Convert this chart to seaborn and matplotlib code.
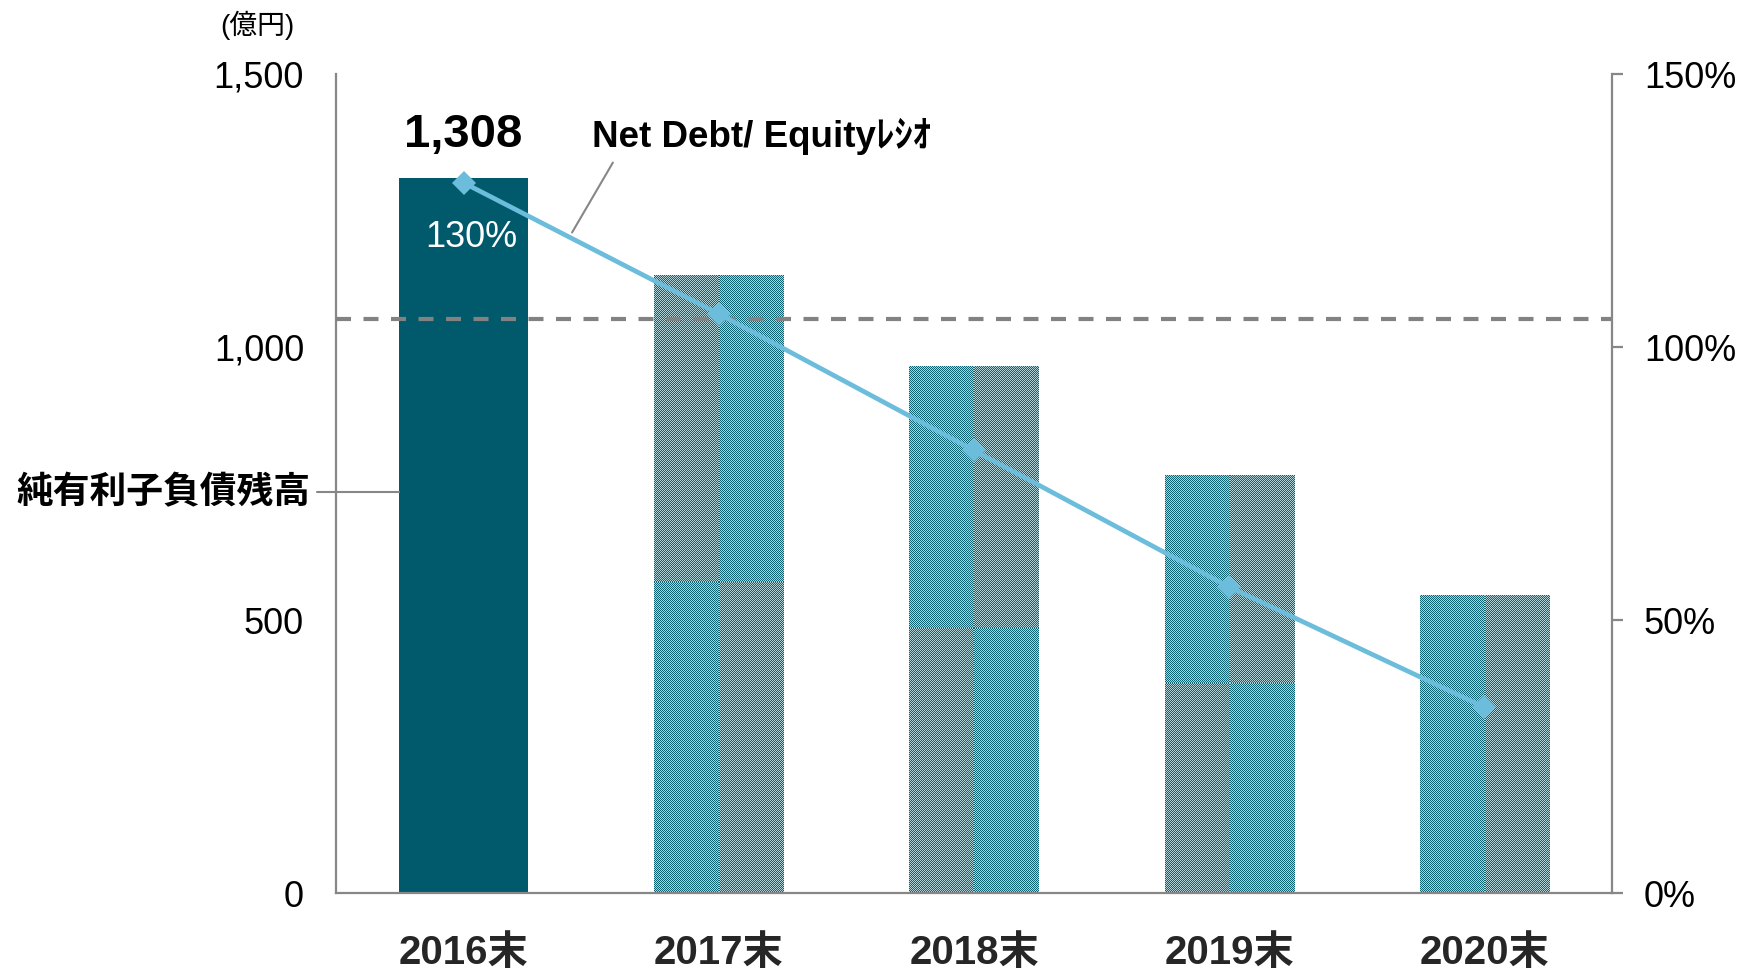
import numpy as np
import pandas as pd
import matplotlib
matplotlib.use("Agg")
import matplotlib.pyplot as plt
from matplotlib.colors import to_rgb
import seaborn as sns

# --- data -------------------------------------------------------------
years = ["2016末", "2017末", "2018末", "2019末", "2020末"]
net_debt = [1308, 1132, 965, 766, 545]          # 億円
de_ratio = [130, 106, 81, 56, 34]               # %
debt_ticks = [0, 500, 1000, 1500]
debt_tick_labels = ["0", "500", "1,000", "1,500"]
ratio_ticks = [0, 50, 100, 150]
ratio_tick_labels = ["0%", "50%", "100%", "150%"]
threshold_ratio = 105                           # dashed reference level, %

DARK = "#005a6c"
CHECK_DARK = "#0f6474"
CHECK_LIGHT = "#b0d2d7"
LINE = "#6cbddb"
GREY = "#878787"

sns.set_theme(style="white")
plt.rcParams["font.family"] = ["Liberation Sans", "Noto Sans CJK JP"]

fig = plt.figure(figsize=(17.51, 9.705), dpi=100)
ax = fig.add_axes([336 / 1751, 1 - 893 / 970, 1276 / 1751, 819 / 970])

df = pd.DataFrame({"year": years, "debt": net_debt, "ratio": de_ratio})
sns.barplot(data=df, x="year", y="debt", ax=ax, color=DARK, width=0.507,
            saturation=1, edgecolor="none", linewidth=0)

ax.set_xlim(-0.5, len(years) - 0.5)
ax.set_ylim(0, 1500)
ax.set_xlabel("")
ax.set_ylabel("")

# checkerboard fill for the later-year bars
fig.canvas.draw()
dark_rgb = np.array(to_rgb(CHECK_DARK))
light_rgb = np.array(to_rgb(CHECK_LIGHT))
for i, bar in enumerate(ax.patches):
    if i == 0:
        continue
    x0, y0 = bar.get_x(), bar.get_y()
    w, h = bar.get_width(), bar.get_height()
    (px0, py0), (px1, py1) = ax.transData.transform([(x0, y0), (x0 + w, y0 + h)])
    nw, nh = int(round(px1 - px0)), int(round(py1 - py0))
    yy, xx = np.mgrid[0:nh, 0:nw]
    mask = ((xx + yy) % 2 == 0)[..., None]
    img = np.where(mask, dark_rgb, light_rgb)
    bar.set_facecolor("none")
    im = ax.imshow(img, extent=(x0, x0 + w, y0, y0 + h), aspect="auto",
                   interpolation="nearest", zorder=bar.get_zorder(), origin="lower")
    im.set_clip_path(bar)

ax.set_xlim(-0.5, len(years) - 0.5)
ax.set_ylim(0, 1500)

# spines and ticks (left axis)
for s in ["top", "right"]:
    ax.spines[s].set_visible(False)
for s in ["left", "bottom"]:
    ax.spines[s].set_color(GREY)
    ax.spines[s].set_linewidth(1.6)
ax.set_yticks(debt_ticks)
ax.set_yticklabels(debt_tick_labels)
ax.tick_params(axis="y", length=0, pad=23, labelsize=26, labelcolor="black")
ax.tick_params(axis="x", length=0, pad=29, labelsize=29)
for lab in ax.get_xticklabels():
    lab.set_fontweight("bold")
ax.grid(False)

# threshold dashed line
ax.axhline(threshold_ratio * 10, color="#828282", lw=3,
           linestyle=(0, (3.6, 3.0)), zorder=5)

# ratio line on the secondary axis
ax2 = ax.twinx()
sns.lineplot(x=np.arange(len(years)), y=de_ratio, ax=ax2, color=LINE,
             linewidth=3.4, marker="D", markersize=12, markeredgewidth=0)
ax2.set_ylim(0, 150)
ax2.set_xlim(-0.5, len(years) - 0.5)
ax2.set_yticks(ratio_ticks)
ax2.set_yticklabels(ratio_tick_labels)
ax2.tick_params(axis="y", length=8, width=1.6, color=GREY, pad=15,
                labelsize=26, labelcolor="black")
for s in ["top", "left", "bottom"]:
    ax2.spines[s].set_visible(False)
ax2.spines["right"].set_color(GREY)
ax2.spines["right"].set_linewidth(1.6)
ax2.grid(False)

# value labels
ax.text(0, net_debt[0] + 40, f"{net_debt[0]:,}", ha="center", va="bottom",
        fontsize=34, fontweight="bold", color="black", zorder=10)
ax.text(0.03, 1200, f"{de_ratio[0]}%", ha="center", va="center",
        fontsize=26, color="white", zorder=10)

# series annotations
ax.text(0.503, 1385, "Net Debt/ Equityﾚｼｵ", ha="left", va="center",
        fontsize=26.5, fontweight="bold", color="black")
ax.plot([0.585, 0.425], [1337, 1209], color=GREY, lw=1.5, zorder=6,
        clip_on=False)

fig.text(163 / 1751, 1 - 493 / 970, "純有利子負債残高", ha="center", va="center",
         fontsize=26.5, fontweight="bold", color="black")
ax.plot([-0.5 - 19 / 255.2, -0.2535], [(893 - 492) / 0.546] * 2, color=GREY,
        lw=1.5, clip_on=False, zorder=6)

fig.text(257 / 1751, 1 - 25 / 970, "(億円)", ha="center", va="center",
         fontsize=20, color="black")

fig.savefig("out.png", dpi=100)
